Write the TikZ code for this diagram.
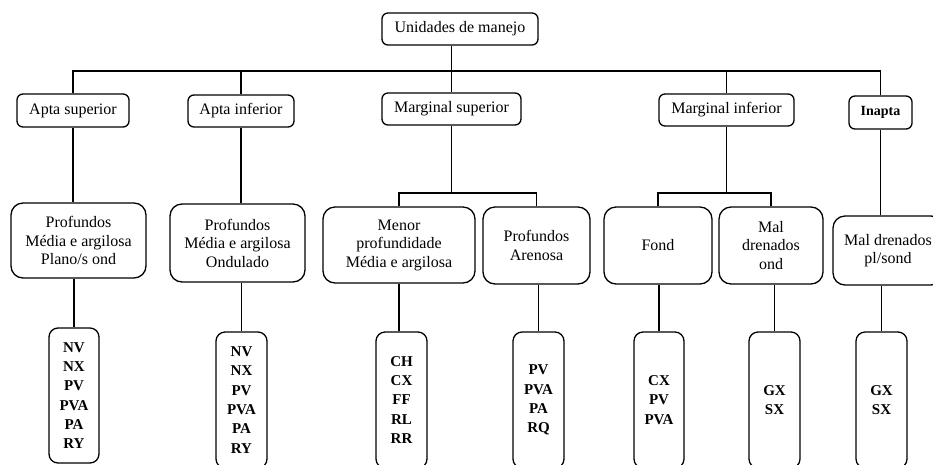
\documentclass[tikz,border=0pt]{standalone}
\usepackage{fontspec}
\setmainfont{Liberation Serif}
\begin{document}
\begin{tikzpicture}[x=1pt,y=-1pt,line width=1.3pt,
  txt/.style={font=\fontsize{16}{18.5}\selectfont},
  lvltwo/.style={draw,rounded corners=6pt,align=center,inner sep=0pt,txt},
  lvlthree/.style={draw,rounded corners=12pt,align=center,inner sep=0pt,txt},
  codes/.style={draw,rounded corners=9pt,align=center,inner sep=0pt,
    font=\fontsize{15}{19.3}\selectfont\bfseries,minimum width=51pt},
  conn/.style={line width=1.3pt}]
\path[use as bounding box,clip] (0,0) rectangle (933,464);

% top
\node[lvltwo,minimum width=156pt,minimum height=32pt] (top) at (460,29) {Unidades de manejo};

% level 2
\node[lvltwo,minimum width=112pt,minimum height=33pt] (as) at (73,110.5) {Apta superior};
\node[lvltwo,minimum width=106pt,minimum height=32pt] (ai) at (241,111) {Apta inferior};
\node[lvltwo,minimum width=139pt,minimum height=32pt] (ms) at (451.5,109) {Marginal superior};
\node[lvltwo,minimum width=135pt,minimum height=32pt] (mi) at (726.5,110) {Marginal inferior};
\node[lvltwo,minimum width=63pt,minimum height=33pt,font=\fontsize{14}{16}\selectfont\bfseries] (in) at (880.5,112.5) {Inapta};

% level 3
\node[lvlthree,minimum width=135pt,minimum height=75pt] (p1) at (78.5,240.5) {Profundos\\Média e argilosa\\Plano/s ond};
\node[lvlthree,minimum width=135pt,minimum height=78pt] (p2) at (237.5,243) {Profundos\\Média e argilosa\\Ondulado};
\node[lvlthree,minimum width=152pt,minimum height=76pt] (p3) at (399,245) {Menor\\profundidade\\Média e argilosa};
\node[lvlthree,minimum width=107pt,minimum height=77pt] (p4) at (536.5,245.5) {Profundos\\Arenosa};
\node[lvlthree,minimum width=108pt,minimum height=77pt] (p5) at (658,245.5) {Fond};
\node[lvlthree,minimum width=104pt,minimum height=77pt] (p6) at (771,245.5) {Mal\\drenados\\ond};
\node[lvlthree,minimum width=110pt,minimum height=69pt] (p7) at (888,250.5) {Mal drenados\\pl/sond};

% level 4
\node[codes,minimum width=50pt,minimum height=135pt] (c1) at (74,395.5) {NV\\NX\\PV\\PVA\\PA\\RY};
\node[codes,minimum height=136pt] (c2) at (241.5,400) {NV\\NX\\PV\\PVA\\PA\\RY};
\node[codes,minimum height=136pt] (c3) at (401.5,400) {CH\\CX\\FF\\RL\\RR};
\node[codes,minimum height=136pt] (c4) at (538.5,400) {PV\\PVA\\PA\\RQ};
\node[codes,minimum width=50pt,minimum height=136pt] (c5) at (659,400) {CX\\PV\\PVA};
\node[codes,minimum height=136pt] (c6) at (774.5,400) {GX\\SX};
\node[codes,minimum height=136pt] (c7) at (881.5,400) {GX\\SX};

% connectors level 1 -> 2
\coordinate (barY) at (0,71);
\coordinate (brY) at (0,193);
\draw[conn] (top.south -| ms.north) -- (ms.north);
\draw[conn] (as.north) -- (as.north |- barY) -| (in.north);
\draw[conn] (ai.north) -- (ai.north |- barY);
\draw[conn] (mi.north) -- (mi.north |- barY);

% level 2 -> 3
\draw[conn] (as.south) -- (as.south |- p1.north);
\draw[conn] (ai.south) -- (ai.south |- p2.north);
\draw[conn] (ms.south) -- (ms.south |- brY);
\draw[conn] (p3.north) -- (p3.north |- brY) -| (p4.north);
\draw[conn] (mi.south) -- (mi.south |- brY);
\draw[conn] (p5.north) -- (p5.north |- brY) -| (p6.north);
\draw[conn] (in.south) -- (in.south |- p7.north);

% level 3 -> 4
\draw[conn] (c1.north |- p1.south) -- (c1.north);
\draw[conn] (c2.north |- p2.south) -- (c2.north);
\draw[conn] (p3.south) -- (p3.south |- c3.north);
\draw[conn] (c4.north |- p4.south) -- (c4.north);
\draw[conn] (c5.north |- p5.south) -- (c5.north);
\draw[conn] (c6.north |- p6.south) -- (c6.north);
\draw[conn] (c7.north |- p7.south) -- (c7.north);
\end{tikzpicture}
\end{document}
